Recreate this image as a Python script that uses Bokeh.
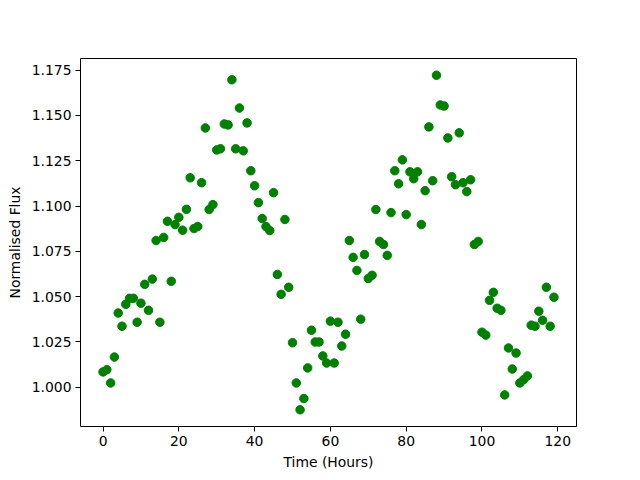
from bokeh.plotting import figure
from bokeh.models import Range1d, FixedTicker, PrintfTickFormatter
from bokeh.embed import file_html
from bokeh.resources import INLINE

hours = list(range(120))
flux = [
    1.0085, 1.0097, 1.0024, 1.0167, 1.0410, 1.0337, 1.0458, 1.0491, 1.0491, 1.0359,
    1.0464, 1.0568, 1.0425, 1.0597, 1.0810, 1.0359, 1.0827, 1.0916, 1.0585, 1.0898,
    1.0938, 1.0867, 1.0982, 1.1156, 1.0876, 1.0887, 1.1129, 1.1431, 1.0981, 1.1008,
    1.1310, 1.1316, 1.1453, 1.1448, 1.1697, 1.1316, 1.1541, 1.1305, 1.1459, 1.1195,
    1.1112, 1.1019, 1.0931, 1.0887, 1.0865, 1.1074, 1.0623, 1.0513, 1.0926, 1.0552,
    1.0246, 1.0024, 0.9876, 0.9938, 1.0107, 1.0315, 1.0250, 1.0250, 1.0173, 1.0134,
    1.0365, 1.0134, 1.0359, 1.0228, 1.0293, 1.0810, 1.0717, 1.0645, 1.0376, 1.0733,
    1.0601, 1.0618, 1.0981, 1.0805, 1.0788, 1.0728, 1.0964, 1.1195, 1.1123, 1.1255,
    1.0953, 1.1189, 1.1151, 1.1189, 1.0898, 1.1085, 1.1437, 1.1140, 1.1722, 1.1558,
    1.1552, 1.1376, 1.1162, 1.1118, 1.1404, 1.1129, 1.1080, 1.1145, 1.0788, 1.0805,
    1.0304, 1.0288, 1.0480, 1.0524, 1.0436, 1.0425, 0.9958, 1.0217, 1.0101, 1.0189,
    1.0024, 1.0042, 1.0063, 1.0343, 1.0337, 1.0420, 1.0370, 1.0552, 1.0337, 1.0497,
]
x_ticks = [0, 20, 40, 60, 80, 100, 120]
y_ticks = [1.000, 1.025, 1.050, 1.075, 1.100, 1.125, 1.150, 1.175]

def padded(vals, frac=0.05):
    lo, hi = min(vals), max(vals)
    m = (hi - lo) * frac
    return lo - m, hi + m

xr = padded(hours)
yr = padded(flux)

p = figure(width=632, height=472, output_backend="svg", toolbar_location=None,
           x_range=Range1d(*xr), y_range=Range1d(*yr),
           min_border_left=80, min_border_top=58, min_border_right=56, min_border_bottom=45)
p.scatter(hours, flux, size=8.5, color="green", line_color="green")

p.grid.visible = False
p.outline_line_color = "black"
p.outline_line_width = 1
p.outline_line_alpha = 1

FONT = "DejaVu Sans"
for ax in (p.xaxis[0], p.yaxis[0]):
    ax.axis_line_color = None
    ax.major_tick_line_color = "black"
    ax.major_tick_out = 5
    ax.major_tick_in = 0
    ax.minor_tick_line_color = None
    ax.major_label_text_font = FONT
    ax.major_label_text_font_size = "13.9px"
    ax.major_label_text_color = "black"
    ax.axis_label_text_font = FONT
    ax.axis_label_text_font_size = "13.9px"
    ax.axis_label_text_font_style = "normal"
    ax.axis_label_text_color = "black"
    ax.major_label_standoff = 4

p.xaxis[0].ticker = FixedTicker(ticks=x_ticks)
p.yaxis[0].ticker = FixedTicker(ticks=y_ticks)
p.yaxis[0].formatter = PrintfTickFormatter(format="%.3f")
p.xaxis[0].axis_label = "Time (Hours)"
p.yaxis[0].axis_label = "Normalised Flux"
p.xaxis[0].axis_label_standoff = 5
p.yaxis[0].axis_label_standoff = 6

open("out.html", "w").write(file_html(p, INLINE))
